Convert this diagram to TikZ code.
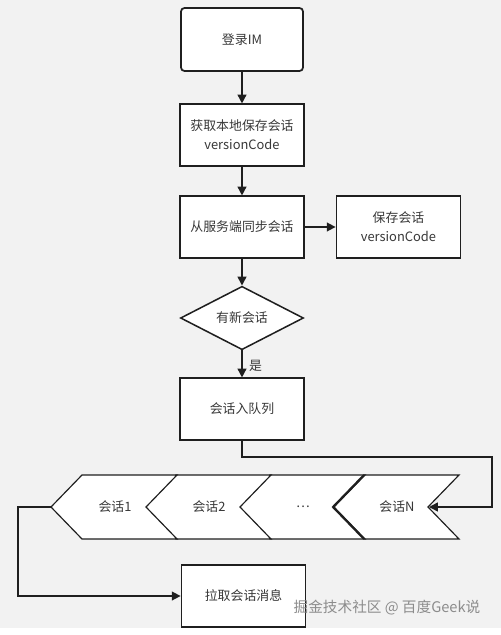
\documentclass[tikz,border=0pt]{standalone}
\usepackage{fontspec}
\setmainfont{Noto Sans CJK SC}
\usetikzlibrary{arrows.meta,shapes.geometric}

\begin{document}
\begin{tikzpicture}[x=0.03cm,y=-0.03cm,
    every node/.style={text=black!78,font=\fontsize{11}{16.5}\selectfont},
    box/.style={draw=black!88,line width=1.5pt,fill=white,minimum width=3.72cm,minimum height=1.84cm,align=center},
    decision/.style={draw=black!88,line width=1.3pt,fill=white,diamond,minimum width=3.69cm,minimum height=1.83cm,inner sep=0pt},
    conn/.style={draw=black!88,line width=1.3pt,-{Triangle[length=7.5pt,width=7.5pt]}},
    chev/.style={draw=black!88,line width=1pt,fill=white,line join=miter}]
    \fill[black!5] (0,0) rectangle (501,635);
    \fill[white] (0,628) rectangle (501,635);
    \node[box,rounded corners=3pt,minimum width=3.66cm,minimum height=1.89cm] (login) at (242,39.5) {登录IM};
    \node[box] (local) at (242,135) {获取本地保存会话\\versionCode};
    \node[box] (sync) at (242,227) {从服务端同步会话};
    \node[box] (save) at (398.5,227) {保存会话\\versionCode};
    \node[decision] (new) at (242,318) {有新会话};
    \node[box] (enqueue) at (242,409) {会话入队列};
    \node[box] (pull) at (243.5,596) {拉取会话消息};
    \foreach \t/\name/\txt in {333/q4/会话N,239/q3/\ldots,145/q2/会话2,51/q1/会话1} {
        \draw[chev] (\t,507) -- (\t+31,475) -- (\t+126,475) -- (\t+95,507) -- (\t+126,539) -- (\t+31,539) -- cycle;
        \node (\name) at (\t+64,507) {\txt};
    }
    \draw[draw=black!88,line width=1.8pt] (364,475) -- (333,507) -- (364,539);
    \coordinate (qin) at (429,507);
    \coordinate (qout) at (51,507);
    \coordinate (turn) at (492,457);
    \draw[conn] (login) -- (local);
    \draw[conn] (local) -- (sync);
    \draw[conn] (sync) -- (save);
    \draw[conn] (sync) -- (new);
    \draw[conn] (new) -- node[right=2pt,yshift=-2pt] {是} (enqueue);
    \draw[conn] (enqueue.south) |- (turn) |- (qin);
    \draw[conn] (qout) -- ++(-33,0) |- (pull.west);
    \node[text=black!45,font=\fontsize{12.5}{15}\selectfont] (mark) at (387,608) {掘金技术社区 @ 百度Geek说};
\end{tikzpicture}
\end{document}
